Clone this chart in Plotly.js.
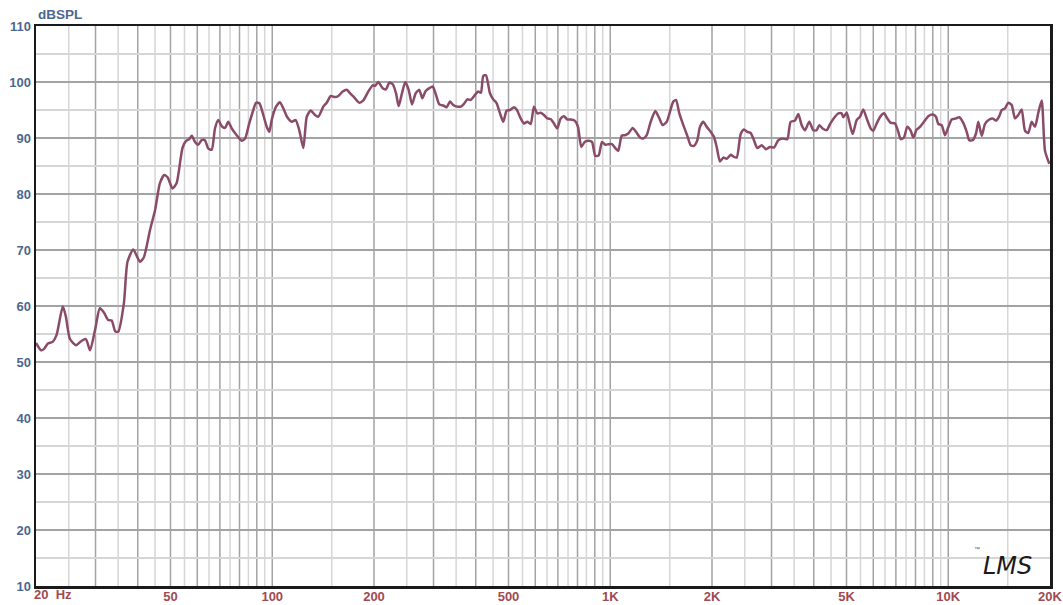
<!DOCTYPE html>
<html>
<head>
<meta charset="utf-8">
<script src="https://cdn.plot.ly/plotly-3.0.1.min.js"></script>
<style>
  html, body { margin: 0; padding: 0; background: #ffffff; }
  #chart { width: 1063px; height: 605px; }
</style>
</head>
<body>
<div id="chart"></div>
<script>
// Frequency (Hz)
const freqHz = [
  20.0, 20.7, 21.1, 21.7, 22.4, 23.0, 24.0, 24.5, 25.2, 26.3, 27.3, 28.1, 28.9, 29.9, 30.9, 31.8, 32.7, 33.5, 34.3, 35.0,
  36.4, 37.3, 38.8, 40.6, 41.7, 43.5, 45.0, 46.5, 47.9, 49.0, 50.7, 52.1,
  53.6, 54.3, 55.6, 56.8, 57.8, 59.1, 60.4, 61.8, 63.2, 64.7, 66.2, 67.7, 69.2, 70.9, 72.5, 74.1, 75.9, 78.5, 81.2, 83.1,
  85.5, 87.9, 89.5, 91.6, 94.1, 96.3, 98.0, 99.6, 102.6, 105.4, 107.8, 110.8, 114.2, 117.3, 120.2, 123.6, 126.5, 129.9,
  133.8, 136.8, 141.6, 144.9, 148.9, 153.3, 156.8, 161.6, 166.1, 169.8, 174.5, 180.9, 185.9,
  192.4, 198.2, 201.4, 205.9, 212.2, 217.0, 222.0, 227.2, 232.3, 236.6, 242.0, 247.5, 253.3, 259.1, 265.7, 272.3, 277.9,
  284.4, 291.5, 298.3, 305.1, 312.0, 320.6, 328.2, 335.6, 343.2, 352.7, 361.0, 369.2, 377.6, 386.4, 397.9, 406.9, 414.5,
  421.0, 428.9, 435.6, 440.7, 450.7, 461.3, 471.8, 482.5, 493.8, 505.0, 519.0, 528.6, 543.2, 555.6, 568.2, 581.5, 594.7,
  608.2, 622.5, 636.6, 651.1, 666.3, 681.5, 697.0, 713.3, 729.5, 746.1, 763.5, 784.9, 802.7, 821.0, 840.2, 863.4, 883.0,
  903.1, 924.3, 945.3, 966.8, 989.4, 1012, 1035, 1056, 1081, 1106, 1131, 1165, 1192, 1225, 1252, 1282, 1317, 1359, 1397,
  1429, 1469, 1502, 1536, 1565, 1601, 1645, 1690, 1730, 1769, 1809, 1843, 1885, 1929, 1982, 2027, 2065,
  2112, 2160, 2211, 2272, 2312, 2366, 2432, 2487, 2544, 2603, 2662, 2723, 2806, 2889, 2969, 3051, 3141, 3237, 3340, 3418,
  3520, 3600, 3684, 3768, 3880, 3987, 4081, 4154, 4251, 4368, 4489, 4623, 4728, 4838, 4891, 5006, 5095, 5214, 5359, 5480,
  5605, 5736, 5895, 6000, 6141, 6311, 6454, 6601, 6756, 6957, 7115, 7232, 7396, 7565, 7742, 7880, 8065, 8248, 8476, 8728,
  8993, 9198, 9343, 9562, 9779, 10002, 10236, 10541, 10781, 11079, 11339, 11542, 11812, 12080, 12272, 12559, 12844, 13226,
  13536, 13844, 14159, 14392, 14720, 15054, 15406, 15756, 16114, 16492, 16867, 17251, 17655, 18057, 18468, 18901, 19331, 19905
];
// Sound pressure level (dB SPL)
const splDb = [
  53.4, 52.1, 52.3, 53.3, 53.6, 54.8, 59.9, 58.2, 54.1, 53.0, 53.8, 54.1, 52.1, 55.7, 59.6, 58.8, 57.5, 57.4, 55.5, 55.4,
  60.5, 67.9, 70.1, 67.9, 68.7, 73.6, 77.1, 81.9, 83.4, 83.0, 81.0, 81.9,
  86.4, 88.3, 89.5, 89.8, 90.4, 89.3, 88.8, 89.6, 89.6, 88.1, 87.9, 91.7, 93.2, 92.1, 91.8, 92.9, 91.7, 90.5, 89.5, 89.9,
  92.6, 95.0, 96.3, 96.2, 94.1, 92.0, 91.1, 93.2, 95.6, 96.4, 95.3, 93.7, 92.9, 93.2, 91.4, 88.2, 93.8, 94.9,
  94.1, 93.8, 95.6, 96.3, 97.5, 97.3, 97.5, 98.3, 98.6, 98.0, 97.3, 96.3, 96.7,
  98.3, 99.4, 99.3, 100.0, 98.9, 98.7, 99.9, 99.6, 98.0, 95.7, 98.0, 100.0, 98.6, 96.0, 98.0, 98.6, 97.1,
  98.4, 98.9, 99.2, 97.7, 96.0, 95.8, 95.5, 96.5, 95.9, 95.6, 95.6, 96.1, 96.9, 96.8, 97.7, 98.3, 98.1,
  101.1, 101.2, 99.5, 98.0, 96.9, 96.2, 94.4, 92.9, 94.9, 95.0, 95.5, 95.1, 93.5, 92.6, 92.9, 92.5, 95.6,
  94.4, 94.5, 94.1, 93.5, 93.4, 92.6, 91.7, 93.5, 93.9, 93.3, 93.3, 93.1, 92.0, 88.4, 89.3, 89.5, 89.3,
  86.8, 86.9, 89.3, 88.8, 88.9, 88.9, 88.2, 87.7, 90.4, 90.5, 90.8, 91.8, 91.1, 90.1, 89.9, 90.5, 92.9, 94.8, 93.5,
  92.3, 92.9, 94.7, 96.5, 96.8, 94.4, 92.3, 90.4, 88.7, 88.6, 89.6, 92.0, 92.9, 92.0, 91.1, 90.2, 88.4,
  85.8, 86.5, 86.3, 87.0, 86.7, 86.5, 90.7, 91.5, 91.1, 90.9, 89.6, 88.2, 88.7, 88.0, 88.4, 88.3, 89.6, 89.9, 89.8, 92.9,
  93.1, 94.3, 92.3, 91.4, 92.9, 91.4, 91.4, 92.3, 91.7, 91.4, 92.7, 93.8, 94.4, 94.4, 93.7, 94.5, 92.9, 90.7, 93.2, 93.8,
  95.1, 93.5, 91.7, 91.3, 92.6, 93.9, 94.4, 93.5, 92.7, 92.6, 91.1, 89.8, 90.1, 92.0, 91.3, 90.1, 91.5, 92.0, 92.9, 93.9,
  94.2, 93.8, 92.5, 92.3, 90.5, 91.9, 93.3, 93.5, 93.7, 92.7, 91.1, 89.6, 89.6, 90.8, 92.9, 90.4, 92.5, 93.3,
  93.5, 93.1, 93.9, 95.0, 95.3, 96.3, 95.9, 93.5, 94.1, 95.1, 91.3, 90.9, 92.9, 92.0, 94.5, 96.7, 87.7, 85.4
];
// Axis labels
const xTickVals = [20, 50, 100, 200, 500, 1000, 2000, 5000, 10000, 20000];
const xTickText = ["", "50", "100", "200", "500", "1K", "2K", "5K", "10K", "20K"];
const yTickVals = [10, 20, 30, 40, 50, 60, 70, 80, 90, 100, 110];

// vertical grid (axis decoration): steps per decade
const gridSpans = [[20, 100, 5], [100, 1000, 50], [1000, 10000, 500], [10000, 20000, 5000]];
const shapes = [];
gridSpans.forEach(([a, b, s]) => {
  for (let v = a + s; v < b + 0.5 * s; v += s) {
    if (v >= 20000) continue;
    const dark = Math.abs((v / (2 * s)) - Math.round(v / (2 * s))) < 1e-9;
    shapes.push({
      type: 'line', xref: 'x', yref: 'paper', x0: v, x1: v, y0: 0, y1: 1,
      layer: 'below', line: { color: dark ? '#a3a3a3' : '#d6d6d6', width: 1.5 }
    });
  }
});

const trace = {
  x: freqHz, y: splDb, type: 'scatter', mode: 'lines',
  line: { color: '#8a4b69', width: 2.5, shape: 'spline', smoothing: 0.6 },
  hoverinfo: 'x+y'
};

const labelFont = { family: 'Arial, Liberation Sans, sans-serif', size: 13, color: '#a04a52', weight: 'bold' };
const yFont = { family: 'Arial, Liberation Sans, sans-serif', size: 13, color: '#4b6890', weight: 'bold' };

const layout = {
  width: 1063, height: 605,
  margin: { l: 36, r: 13, t: 26, b: 19, pad: 0 },
  paper_bgcolor: '#ffffff', plot_bgcolor: '#ffffff',
  showlegend: false,
  xaxis: {
    type: 'log', range: [Math.log10(20), Math.log10(20000)],
    tickmode: 'array', tickvals: xTickVals, ticktext: xTickText,
    showgrid: false, zeroline: false,
    showline: true, mirror: true, linecolor: '#1a1a1a', linewidth: 2.5,
    ticks: '', tickfont: labelFont, ticklabelstandoff: -3
  },
  yaxis: {
    range: [10, 110], tickmode: 'array', tickvals: yTickVals,
    showgrid: true, gridcolor: '#a3a3a3', gridwidth: 1.5,
    minor: { dtick: 5, tick0: 5, showgrid: true, gridcolor: '#d6d6d6', gridwidth: 1.5 },
    zeroline: false,
    showline: true, mirror: true, linecolor: '#1a1a1a', linewidth: 2.5,
    ticks: '', tickfont: yFont
  },
  shapes: shapes,
  annotations: [
    { xref: 'paper', yref: 'paper', x: 0, y: 1, xanchor: 'left', yanchor: 'bottom', xshift: 0, yshift: 2,
      text: 'dBSPL', showarrow: false,
      font: { family: 'Arial, Liberation Sans, sans-serif', size: 13.5, color: '#4b6890', weight: 'bold' } },
    { xref: 'paper', yref: 'paper', x: 0, y: 0, xanchor: 'left', yanchor: 'top', xshift: -4, yshift: 1,
      text: '20\u00a0\u00a0Hz', showarrow: false, font: labelFont },
    { xref: 'paper', yref: 'paper', x: 0.984, y: 0.008, xanchor: 'right', yanchor: 'bottom',
      text: '<i>LMS</i>', showarrow: false,
      font: { family: 'DejaVu Sans, sans-serif', size: 24, color: '#1a1a1a' } },
    { xref: 'paper', yref: 'paper', x: 0.933, y: 0.058, xanchor: 'right', yanchor: 'bottom',
      text: '™', showarrow: false,
      font: { family: 'Arial, sans-serif', size: 6, color: '#555555' } }
  ]
};

Plotly.newPlot('chart', [trace], layout, { displayModeBar: false, staticPlot: true });
</script>
</body>
</html>
